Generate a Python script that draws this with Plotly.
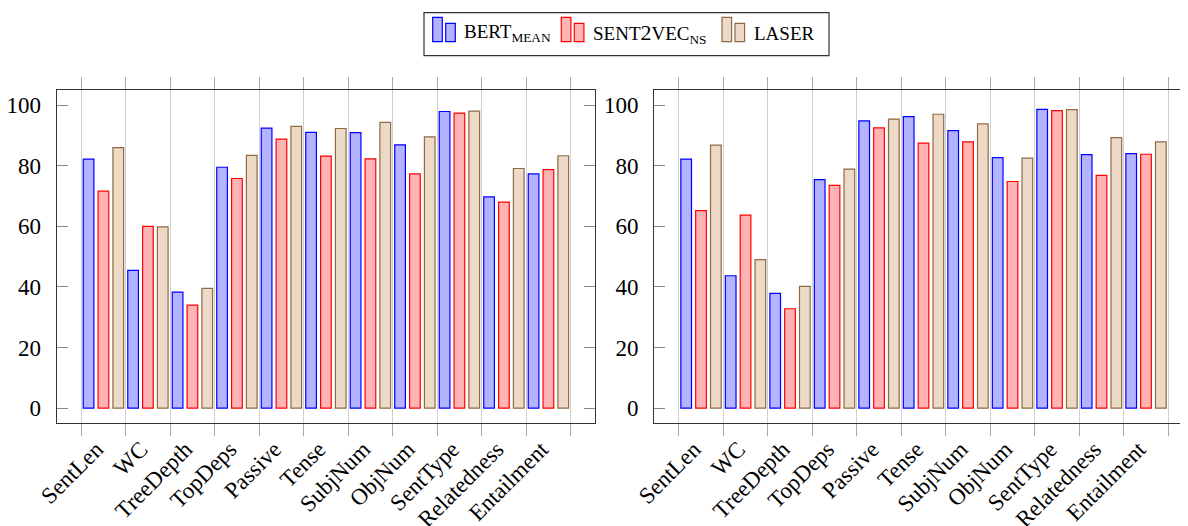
import plotly.graph_objects as go

# ---------------- data ----------------
categories = ["SentLen", "WC", "TreeDepth", "TopDeps", "Passive", "Tense",
              "SubjNum", "ObjNum", "SentType", "Relatedness", "Entailment"]

series_labels = ["BERT<sub>MEAN</sub>",
                 "SENT<span style='font-size:22px'>2</span>VEC<sub>NS</sub>",
                 "LASER"]

# left panel
left_bert = [82.2, 45.5, 38.3, 79.5, 92.4, 91.0, 90.9, 86.9, 97.9, 69.7, 77.3]
left_sent2vec = [71.6, 60.0, 34.0, 75.8, 88.8, 83.2, 82.3, 77.3, 97.4, 68.0, 78.7]
left_laser = [86.0, 59.8, 39.5, 83.4, 93.0, 92.3, 94.3, 89.5, 98.0, 79.1, 83.3]

# right panel
right_bert = [82.2, 43.7, 37.9, 75.4, 94.8, 96.2, 91.6, 82.7, 98.6, 83.7, 84.0]
right_sent2vec = [65.2, 63.7, 32.8, 73.5, 92.5, 87.5, 87.9, 74.8, 98.2, 76.8, 83.8]
right_laser = [86.8, 49.0, 40.2, 78.9, 95.4, 97.0, 93.8, 82.5, 98.5, 89.3, 87.9]

y_ticks = [0, 20, 40, 60, 80, 100]

# ---------------- style ----------------
W, H = 1188, 526
OFF = 8  # page body margin of the written html
FONT = "Liberation Serif"
fills = ["#b3b3ff", "#ffb3b3", "#ecd9c6"]
edges = ["#0000ff", "#ff0000", "#8c6b47"]


def px(x):
    return (x - OFF) / W


def py(y):
    return 1 - (y - OFF) / H


idx = list(range(len(categories)))
bounds = [i - 0.5 for i in range(len(categories) + 1)]

fig = go.Figure()

panels = [
    ("x", "y", "x3", [left_bert, left_sent2vec, left_laser]),
    ("x2", "y2", "x4", [right_bert, right_sent2vec, right_laser]),
]
for xa, ya, ga, series in panels:
    # invisible helper trace so the grid/tick overlay axis is drawn
    fig.add_trace(go.Scatter(x=bounds, y=[None] * len(bounds), xaxis=ga, yaxis=ya,
                             mode="markers", showlegend=False, hoverinfo="skip"))
    for k, vals in enumerate(series):
        fig.add_trace(go.Bar(
            x=idx, y=vals, xaxis=xa, yaxis=ya,
            marker=dict(color=fills[k], line=dict(color=edges[k], width=1.2)),
            showlegend=False, name=series_labels[k],
        ))

y_dom = [py(423.3), py(90)]
x1_dom = [px(56.7), px(595)]
x2_dom = [px(654.3), px(1192.6)]
x_rng = [-1.05, 11.047]

label_axis = dict(
    tickmode="array", tickvals=idx, ticktext=categories, tickangle=-45,
    ticks="", showgrid=False, showline=False, zeroline=False,
    tickfont=dict(family=FONT, size=23, color="black"),
    ticklabelstandoff=7, ticklabelshift=-7, automargin=False,
)
grid_axis = dict(
    tickmode="array", tickvals=bounds, showticklabels=False,
    ticks="outside", ticklen=12, tickcolor="#a8a8a8", tickwidth=1,
    showgrid=True, gridcolor="#d0d0d0", gridwidth=1,
    showline=True, linecolor="#333333", linewidth=1.2, mirror="ticks",
    zeroline=False, automargin=False,
)
y_axis = dict(
    range=[-5, 105], domain=y_dom, tickmode="array", tickvals=y_ticks,
    ticks="inside", ticklen=11, tickcolor="#8a8a8a", tickwidth=1,
    showline=True, linecolor="#333333", linewidth=1.2, mirror="ticks",
    showgrid=False, zeroline=False,
    tickfont=dict(family=FONT, size=23, color="black"),
    ticklabelstandoff=10, automargin=False,
)

fig.update_layout(
    width=W, height=H,
    margin=dict(l=0, r=0, t=0, b=0, autoexpand=False),
    paper_bgcolor="white", plot_bgcolor="white",
    barmode="group", bargap=0.0, bargroupgap=0.28,
    xaxis=dict(domain=x1_dom, range=x_rng, anchor="y", **label_axis),
    xaxis3=dict(overlaying="x", anchor="y", range=x_rng, **grid_axis),
    yaxis=dict(anchor="x", **y_axis),
    xaxis2=dict(domain=x2_dom, range=x_rng, anchor="y2", **label_axis),
    xaxis4=dict(overlaying="x2", anchor="y2", range=x_rng, **grid_axis),
    yaxis2=dict(anchor="x2", **y_axis),
    showlegend=False,
)

# ---------------- custom legend (two-bar icons like pgfplots) ----------------
shapes = [dict(type="rect", xref="paper", yref="paper",
               x0=px(424), x1=px(829), y0=py(55.7), y1=py(12.7),
               line=dict(color="#333333", width=1.2), fillcolor="white", layer="above")]
icon_x = [432.7, 561.3, 722.0]
text_x = [461.7, 590.7, 751.7]
for k in range(3):
    x0 = icon_x[k]
    shapes.append(dict(type="rect", xref="paper", yref="paper",
                       x0=px(x0), x1=px(x0 + 9.6), y0=py(41.7), y1=py(17.3),
                       line=dict(color=edges[k], width=1.2), fillcolor=fills[k], layer="above"))
    shapes.append(dict(type="rect", xref="paper", yref="paper",
                       x0=px(x0 + 13), x1=px(x0 + 22.6), y0=py(41.7), y1=py(23.3),
                       line=dict(color=edges[k], width=1.2), fillcolor=fills[k], layer="above"))
    fig.add_annotation(x=px(text_x[k]), y=py(33), xref="paper", yref="paper",
                       xanchor="left", yanchor="middle", showarrow=False,
                       text=series_labels[k],
                       font=dict(family=FONT, size=19, color="black"))
fig.update_layout(shapes=shapes)

fig.write_html("out.html")
